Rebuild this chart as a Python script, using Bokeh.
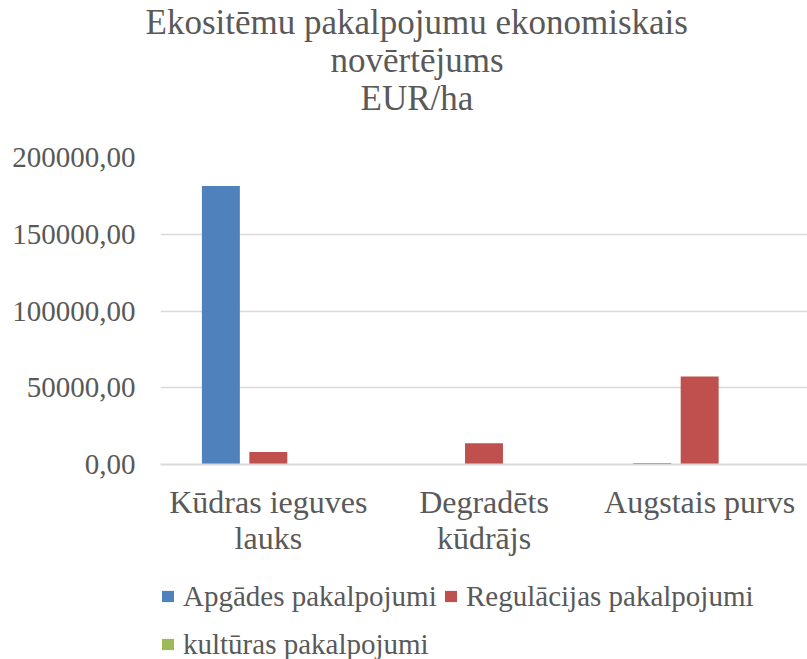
from bokeh.plotting import figure
from bokeh.models import (ColumnDataSource, FactorRange, Legend, LegendItem, Title,
                          FixedTicker, Range1d, CategoricalAxis)
from bokeh.transform import dodge
from bokeh.layouts import column
from bokeh.embed import file_html
from bokeh.resources import INLINE

# ---- data ----
categories = ["Kūdras ieguves lauks", "Degradēts kūdrājs", "Augstais purvs"]
category_line1 = ["Kūdras ieguves", "Degradēts", "Augstais purvs"]
category_line2 = ["lauks", "kūdrājs", " "]
series_names = ["Apgādes pakalpojumi", "Regulācijas pakalpojumi", "kultūras pakalpojumi"]
apgades = [181500, 0, 1000]
regulacijas = [8200, 13900, 57400]
kulturas = [0, 0, 0]
y_ticks = [0, 50000, 100000, 150000, 200000]
y_tick_labels = ["0,00", "50000,00", "100000,00", "150000,00", "200000,00"]
title_lines = ["Ekositēmu pakalpojumu ekonomiskais", "novērtējums", "EUR/ha"]
colors = ["#4F81BD", "#C0504D", "#9BBB59"]

FONT = "Liberation Serif"
TXT = "#595959"
GRID = "#D9D9D9"
CHART_H = 559
TOTAL_H = 659

source = ColumnDataSource(dict(cat=categories, apgades=apgades,
                               regulacijas=regulacijas, kulturas=kulturas))
cols = ["apgades", "regulacijas", "kulturas"]
bw = 0.176
offs = [-0.22, 0.0, 0.22]

p = figure(frame_width=647, frame_height=307, x_range=FactorRange(*categories),
           y_range=Range1d(0, 200000), output_backend="svg",
           toolbar_location=None, tools="", x_axis_location=None)
p.extra_x_ranges = {"line1": FactorRange(*category_line1),
                    "line2": FactorRange(*category_line2)}
p.min_border_left = 160
p.min_border_right = 0
p.min_border_top = 157
p.min_border_bottom = CHART_H - 157 - 307
p.outline_line_color = None

for col, off, c in zip(cols, offs, colors):
    p.vbar(x=dodge("cat", off, range=p.x_range), top=col, width=bw,
           source=source, fill_color=c, line_color=None)

# y axis / grid
p.xgrid.grid_line_color = None
p.ygrid.grid_line_color = GRID
p.ygrid.grid_line_width = 1.3
p.yaxis.ticker = FixedTicker(ticks=y_ticks)
p.yaxis.major_label_overrides = {t: l for t, l in zip(y_ticks, y_tick_labels)}
p.yaxis.axis_line_color = None
p.yaxis.major_tick_line_color = None
p.yaxis.minor_tick_line_color = None
p.yaxis.major_tick_in = 0
p.yaxis.major_tick_out = 0
p.yaxis.major_label_standoff = 25
p.yaxis.major_label_text_font = FONT
p.yaxis.major_label_text_font_size = "29px"
p.yaxis.major_label_text_color = TXT

# x axes: two stacked category axes give the two-line labels
def cat_axis(range_name, standoff, line_color, lh):
    ax = CategoricalAxis(x_range_name=range_name)
    ax.axis_line_color = line_color
    ax.axis_line_width = 2
    ax.major_tick_line_color = None
    ax.minor_tick_line_color = None
    ax.major_tick_in = 0
    ax.major_tick_out = 0
    ax.major_label_standoff = standoff
    ax.major_label_text_font = FONT
    ax.major_label_text_font_size = "32px"
    ax.major_label_text_color = TXT
    ax.major_label_text_line_height = lh
    return ax

p.add_layout(cat_axis("line1", 19, GRID, 0.9), "below")
p.add_layout(cat_axis("line2", -3, None, 1.0), "below")

# title lines (left aligned, offsets centre each line at x = 416)
p.add_layout(Title(text=" ", standoff=0, text_font_size="35px", text_line_height=1.0), "above")
title_offsets = [-15, 170, 200]
for line, off in reversed(list(zip(title_lines, title_offsets))):
    t = Title(text=line, align="left", offset=off, standoff=-3,
              text_font=FONT, text_font_size="35px", text_color=TXT,
              text_font_style="normal", text_line_height=1.0)
    p.add_layout(t, "above")

# legend strip (separate figure underneath, legend inside its frame)
LEG_H = TOTAL_H - CHART_H
q = figure(width=807, height=LEG_H, x_range=FactorRange(*categories),
           y_range=Range1d(1e9, 2e9),
           output_backend="svg", toolbar_location=None, tools="",
           x_axis_location=None, y_axis_location=None)
q.min_border = 0
q.outline_line_color = None
q.grid.grid_line_color = None
leg_items = []
for name, col, off, c in zip(series_names, cols, offs, colors):
    r = q.vbar(x=dodge("cat", off, range=q.x_range), top=col, width=bw,
               source=source, fill_color=c, line_color=None)
    leg_items.append(LegendItem(label=name, renderers=[r]))

legend = Legend(items=leg_items, orientation="horizontal", ncols=2,
                location=(0, LEG_H - 106))
legend.padding = 0
legend.margin = 0
legend.spacing = 6
legend.border_line_color = None
legend.background_fill_alpha = 0
legend.glyph_width = 15
legend.glyph_height = 14
legend.label_standoff = 8
legend.label_width = 254
legend.label_height = 42
legend.label_text_font = FONT
legend.label_text_font_size = "29px"
legend.label_text_color = TXT
q.add_layout(legend, "center")

layout = column(p, q, spacing=0)
open("out.html", "w").write(file_html(layout, INLINE))
